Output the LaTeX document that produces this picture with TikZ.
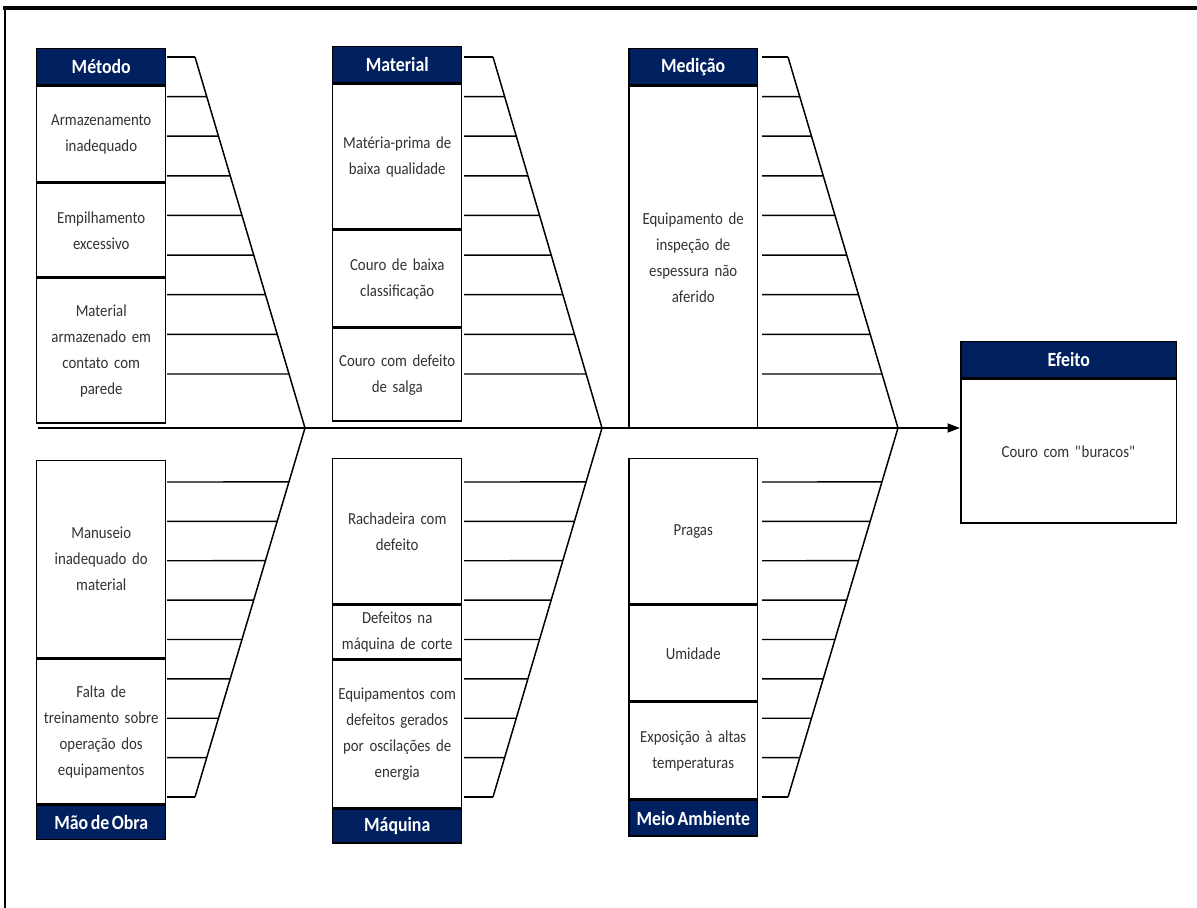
\documentclass[tikz,border=0pt]{standalone}
\usepackage{fontspec}
\setmainfont{Carlito}[FakeStretch=0.88, WordSpace=0.65]
\usepackage{tikz}
\usetikzlibrary{arrows.meta,calc}
\definecolor{azulcab}{RGB}{0,32,96}
\definecolor{textocx}{RGB}{50,50,50}
\tikzset{
  cab/.style={draw, fill=azulcab, text=white, font=\bfseries\fontsize{11.5}{13}\selectfont,
    minimum width=2.58cm, minimum height=0.72cm, anchor=north west, inner sep=0pt, line width=0.85pt},
  caixa/.style={draw, fill=white, text=textocx, align=center, text width=2.5cm,
    font=\fontsize{9.6}{14.8}\selectfont, minimum width=2.58cm, anchor=north west, inner sep=0pt, line width=0.85pt},
  alt/.style={minimum height=#1*0.02cm},
  osso/.style={line width=0.85pt},
}

\begin{document}
\begin{tikzpicture}[x=0.02cm, y=-0.02cm]
    \useasboundingbox (0,0) rectangle (1197,908);
    % moldura
    \draw[line width=2pt] (3,8) -- (1197,8);
    \draw[line width=1.2pt] (5,8) -- (5,908);

    % Metodo
    \node[cab] (metodo) at (36,48){Método};
    \node[caixa, alt=96] (m1) at (metodo.south west){Armazenamento\\inadequado};
    \node[caixa, alt=93] (m2) at (m1.south west){Empilhamento\\excessivo};
    \node[caixa, alt=145] (m3) at (m2.south west){Material\\armazenado em\\contato com\\parede};

    % Material
    \node[cab] (material) at (332,46){Material};
    \node[caixa, alt=145] (a1) at (material.south west){Matéria-prima de\\baixa qualidade};
    \node[caixa, alt=96] (a2) at (a1.south west){Couro de baixa\\classificação};
    \node[caixa, alt=93] (a3) at (a2.south west){Couro com defeito\\de salga};

    % Medicao
    \node[cab] (medicao) at (628,48){Medição};
    \node[caixa, alt=342] (d1) at (medicao.south west){Equipamento de\\inspeção de\\espessura não\\aferido};

    % Mao de Obra
    \node[caixa, alt=197] (o1) at (36,460){Manuseio\\inadequado do\\material};
    \node[caixa, alt=145] (o2) at (o1.south west){Falta de\\treinamento sobre\\operação dos\\equipamentos};
    \node[cab, minimum height=0.68cm] (maodeobra) at (o2.south west){Mão de Obra};

    % Maquina
    \node[caixa, alt=145] (q1) at (332,458){Rachadeira com\\defeito};
    \node[caixa, alt=54] (q2) at (q1.south west){Defeitos na\\máquina de corte};
    \node[caixa, alt=147] (q3) at (q2.south west){Equipamentos com\\defeitos gerados\\por oscilações de\\energia};
    \node[cab, minimum height=0.68cm] (maquina) at (q3.south west){Máquina};

    % Meio Ambiente
    \node[caixa, alt=145] (e1) at (628,458){Pragas};
    \node[caixa, alt=96] (e2) at (e1.south west){Umidade};
    \node[caixa, alt=96] (e3) at (e2.south west){Exposição à altas\\temperaturas};
    \node[cab] (meioamb) at (e3.south west){Meio Ambiente};

    % Efeito
    \node[cab, minimum width=4.32cm] (efeito) at (960,341){Efeito};
    \node[caixa, alt=144, minimum width=4.32cm, text width=4.2cm] (efcorpo) at (efeito.south west){Couro com \textquotedbl buracos\textquotedbl};

    % espinha
    \coordinate (ini) at (38,428);
    \draw[line width=1.1pt, -{Triangle[length=7pt, width=5pt]}] (ini) -- (ini -| efcorpo.west);

    \coordinate (mt) at (195,57);  \coordinate (mj) at (305,428); \coordinate (mb) at (195,797);
    \coordinate (at) at (493,57);  \coordinate (aj) at (602,428); \coordinate (ab) at (493,797);
    \coordinate (dt) at (788,57);  \coordinate (dj) at (898,428); \coordinate (db) at (788,797);

    \foreach \g/\xs in {m/167, a/464, d/762}{
      \draw[osso] (\g t) -- (\g j) -- (\g b);
      \foreach \k in {0,...,8}{
        \draw[osso] (\xs,57+39.625*\k) -- ($(\g t)!{\k*39.625/371}!(\g j)$);
        \draw[osso] (\xs,482+39.375*\k) -- ($(\g j)!{(54+39.375*\k)/369}!(\g b)$);
      }
    }
  \end{tikzpicture}
\end{document}
